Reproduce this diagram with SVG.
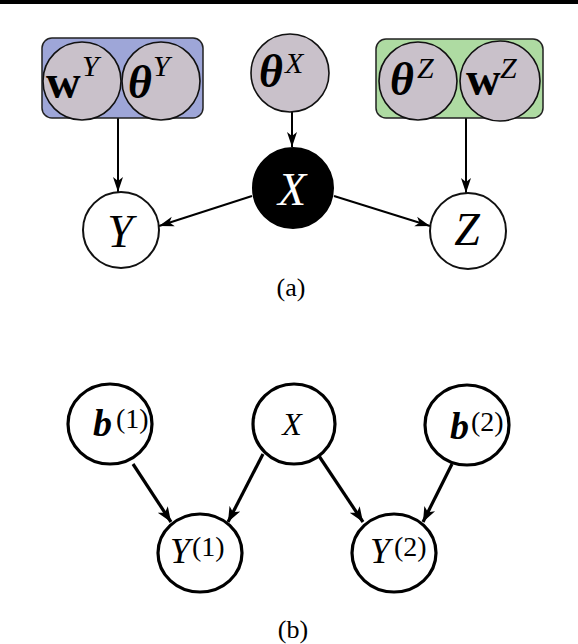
<svg xmlns="http://www.w3.org/2000/svg" width="578" height="644" viewBox="0 0 578 644">
<style>
.t{font-family:"Liberation Serif","Times New Roman",serif;fill:#000}
.i{font-style:italic}
.b{font-weight:bold}
.pc{fill:#c9c1ca;stroke:#111;stroke-width:1.6}
.oc{fill:#fff;stroke:#111;stroke-width:2}
.bc{fill:#fff;stroke:#000;stroke-width:3.2}
.e1{stroke:#000;stroke-width:2;fill:none}
.e2{stroke:#000;stroke-width:3.2;fill:none}
</style>
<defs>
<marker id="a1" markerUnits="userSpaceOnUse" markerWidth="16" markerHeight="12" refX="15" refY="5" orient="auto" viewBox="0 0 16 10">
<path d="M0,0 L15,5 L0,10 L4,5 Z" fill="#000"/>
</marker>
<marker id="a2" markerUnits="userSpaceOnUse" markerWidth="16" markerHeight="14" refX="15" refY="6" orient="auto" viewBox="0 0 16 12">
<path d="M0,0 L15,6 L0,12 L4,6 Z" fill="#000"/>
</marker>
</defs>
<rect x="0" y="0" width="578" height="4" fill="#000"/>

<g id="connectors">
<line class="e1" x1="118" y1="118" x2="118" y2="192" marker-end="url(#a1)"/>
<line class="e1" x1="466" y1="118" x2="466" y2="193" marker-end="url(#a1)"/>
<line class="e1" x1="292" y1="112" x2="292" y2="147" marker-end="url(#a1)"/>
<line class="e1" x1="252" y1="196" x2="159" y2="226" marker-end="url(#a1)"/>
<line class="e1" x1="334" y1="196" x2="430" y2="226" marker-end="url(#a1)"/>
<line class="e2" x1="133" y1="464" x2="171" y2="522" marker-end="url(#a2)"/>
<line class="e2" x1="263" y1="454" x2="228" y2="522" marker-end="url(#a2)"/>
<line class="e2" x1="319" y1="456" x2="363" y2="522" marker-end="url(#a2)"/>
<line class="e2" x1="452" y1="464" x2="423" y2="522" marker-end="url(#a2)"/>
</g>

<g id="plateY">
<rect x="42" y="38" width="161" height="80" rx="10" fill="#9ea6d8" stroke="#222" stroke-width="1.5"/>
<g id="wY">
<circle class="pc" cx="82" cy="81" r="39"/>
<text class="t b" x="46" y="98" font-size="48">w</text>
<text class="t i" x="82" y="76" font-size="30">Y</text>
</g>
<g id="thetaY">
<circle class="pc" cx="161" cy="81" r="39"/>
<text class="t b i" x="128" y="98" font-size="46">θ</text>
<text class="t i" x="153" y="76" font-size="30">Y</text>
</g>
</g>

<g id="thetaX">
<circle class="pc" cx="290" cy="73" r="39"/>
<text class="t b i" x="259" y="87" font-size="46">θ</text>
<text class="t i" x="285" y="73" font-size="30">X</text>
</g>

<g id="plateZ">
<rect x="376" y="39" width="167" height="79" rx="10" fill="#aedba2" stroke="#222" stroke-width="1.5"/>
<g id="thetaZ">
<circle class="pc" cx="418" cy="81" r="39"/>
<text class="t b i" x="390" y="95" font-size="46">θ</text>
<text class="t i" x="417" y="78" font-size="30">Z</text>
</g>
<g id="wZ">
<circle class="pc" cx="500" cy="81" r="40"/>
<text class="t b" x="466" y="95" font-size="48">w</text>
<text class="t i" x="500" y="78" font-size="30">Z</text>
</g>
</g>

<g id="X">
<circle cx="293" cy="188" r="40" fill="#000" stroke="#000" stroke-width="2"/>
<text class="t i" x="292" y="205" font-size="46" text-anchor="middle" style="fill:#fff">X</text>
</g>
<g id="Y">
<circle class="oc" cx="121" cy="230" r="38"/>
<text class="t i" x="120" y="247" font-size="46" text-anchor="middle">Y</text>
</g>
<g id="Z">
<circle class="oc" cx="468" cy="231" r="38"/>
<text class="t i" x="467" y="245" font-size="46" text-anchor="middle">Z</text>
</g>

<text class="t" x="291" y="296" font-size="26" text-anchor="middle">(a)</text>

<g id="b1">
<ellipse class="bc" cx="110" cy="424" rx="42" ry="40"/>
<text class="t b i" x="93" y="436" font-size="38">b</text>
<text class="t" x="116" y="428" font-size="28">(1)</text>
</g>
<g id="Xb">
<ellipse class="bc" cx="294" cy="424" rx="41" ry="40"/>
<text class="t i" x="292" y="435" font-size="32" text-anchor="middle">X</text>
</g>
<g id="b2">
<ellipse class="bc" cx="467" cy="425" rx="42" ry="40"/>
<text class="t b i" x="450" y="439" font-size="38">b</text>
<text class="t" x="471" y="431" font-size="28">(2)</text>
</g>
<g id="Y1">
<ellipse class="bc" cx="200" cy="553" rx="42" ry="39"/>
<text class="t i" x="170" y="563" font-size="36">Y</text>
<text class="t" x="192" y="556" font-size="28">(1)</text>
</g>
<g id="Y2">
<ellipse class="bc" cx="394" cy="553" rx="42" ry="39"/>
<text class="t i" x="370" y="563" font-size="36">Y</text>
<text class="t" x="394" y="556" font-size="28">(2)</text>
</g>

<text class="t" x="293" y="638" font-size="26" text-anchor="middle">(b)</text>
</svg>
